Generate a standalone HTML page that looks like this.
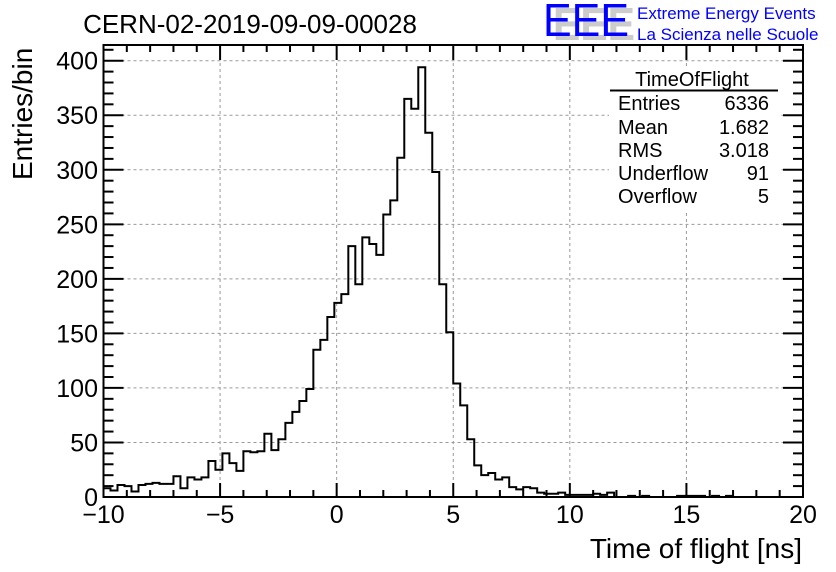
<!DOCTYPE html>
<html><head><meta charset="utf-8"><style>
html,body{margin:0;padding:0;background:#fff;}
svg{display:block;font-family:"Liberation Sans",sans-serif;}
</style></head><body>
<svg id="chart" width="836" height="572" xmlns="http://www.w3.org/2000/svg">
<rect x="0" y="0" width="836" height="572" fill="#fff"/>
<g id="grid"></g>
<g id="hist"></g>
<g id="stats">
<rect x="609" y="66" width="170" height="144" fill="#fff"/>
<text x="692" y="86" font-size="20" text-anchor="middle">TimeOfFlight</text>
<line x1="610" y1="90.5" x2="778" y2="90.5" stroke="#000" stroke-width="2"/>
<text x="618" y="110" font-size="20">Entries</text><text x="769" y="110" font-size="20" text-anchor="end">6336</text>
<text x="618" y="134" font-size="20">Mean</text><text x="769" y="134" font-size="20" text-anchor="end">1.682</text>
<text x="618" y="157" font-size="20">RMS</text><text x="769" y="157" font-size="20" text-anchor="end">3.018</text>
<text x="618" y="180" font-size="20">Underflow</text><text x="769" y="180" font-size="20" text-anchor="end">91</text>
<text x="618" y="203" font-size="20">Overflow</text><text x="769" y="203" font-size="20" text-anchor="end">5</text>
</g>
<g id="axes"></g>
<text x="250" y="33" font-size="26" text-anchor="middle">CERN-02-2019-09-09-00028</text>
<g>
<text x="553" y="40" font-size="46" fill="#ccc" font-weight="bold" textLength="82" lengthAdjust="spacingAndGlyphs">EEE</text>
<text x="543" y="36" font-size="46" fill="#0000ff" textLength="86" lengthAdjust="spacingAndGlyphs">EEE</text>
<text x="637" y="19" font-size="17" fill="#0000ff">Extreme Energy Events</text>
<text x="637" y="40" font-size="17" fill="#0000ff">La Scienza nelle Scuole</text>
</g>
<text x="802" y="558" font-size="28" text-anchor="end">Time of flight [ns]</text>
<text transform="translate(32,180) rotate(-90)" font-size="28" text-anchor="start">Entries/bin</text>
</svg>
<script>
const binValues = [8,6,11,10,5,11,12,13,12,12,19,8,18,16,18,33,25,40,31,24,42,41,42,58,43,53,68,78,88,99,
135,144,165,178,186,230,195,238,232,222,259,272,311,365,356,394,334,298,195,151,
104,84,53,29,20,22,16,18,9,7,9,8,4,3,3,4,2,2,2,2,3,2,4,0,0,1,0,1,0,0,
0,0,1,1,1,1,0,1,0,1,0,0,0,0,0,0,0,0,0,0];
const xTickLabels = ["−10","−5","0","5","10","15","20"];
const xTickValues = [-10,-5,0,5,10,15,20];
const yTickValues = [0,50,100,150,200,250,300,350,400];

const NS="http://www.w3.org/2000/svg";
const L=103.5,R=803,T=45,B=497;
const xMin=-10,xMax=20,yMax=400,yTop=60.7;
const X=v=>L+(v-xMin)/(xMax-xMin)*(R-L);
const Y=v=>B-v/yMax*(B-yTop);
function mk(tag,attrs,parent){const e=document.createElementNS(NS,tag);for(const k in attrs)e.setAttribute(k,attrs[k]);parent.appendChild(e);return e;}
const grid=document.getElementById('grid'),axes=document.getElementById('axes'),hist=document.getElementById('hist');
xTickValues.slice(1,-1).forEach(v=>{const l=mk('line',{x1:X(v),x2:X(v),y1:T,y2:B,stroke:'#999','stroke-dasharray':'3,3','stroke-width':1},grid);

});
yTickValues.slice(1).forEach(v=>{const l=mk('line',{x1:L,x2:R,y1:Y(v),y2:Y(v),stroke:'#999','stroke-dasharray':'3,3','stroke-width':1},grid);

});
const w=(xMax-xMin)/binValues.length;
let d='M'+X(xMin)+','+Y(0);
binValues.forEach((v,i)=>{d+=' L'+X(xMin+i*w)+','+Y(v)+' L'+X(xMin+(i+1)*w)+','+Y(v);});
d+=' L'+X(xMax)+','+Y(0);
const p=mk('path',{d:d,fill:'none',stroke:'#000','stroke-width':2},hist);


const fr=mk('rect',{x:L,y:T,width:R-L,height:B-T,fill:'none',stroke:'#000','stroke-width':2},axes);


for(let v=xMin;v<=xMax;v++){const maj=v%5===0;
mk('line',{x1:X(v),x2:X(v),y1:B,y2:B-(maj?14:7),stroke:'#000','stroke-width':2},axes);
mk('line',{x1:X(v),x2:X(v),y1:T,y2:T+(maj?15:7),stroke:'#000','stroke-width':2},axes);}
xTickValues.forEach((v,i)=>{const t=mk('text',{x:X(v),y:523,'font-size':25,'text-anchor':'middle'},axes);t.textContent=xTickLabels[i];

});
for(let v=0;v<=410;v+=10){const maj=v%50===0;
mk('line',{x1:L,x2:L+(maj?20:10),y1:Y(v),y2:Y(v),stroke:'#000','stroke-width':2},axes);
mk('line',{x1:R,x2:R-(maj?20:10),y1:Y(v),y2:Y(v),stroke:'#000','stroke-width':2},axes);}
yTickValues.forEach(v=>{const t=mk('text',{x:98,y:Y(v)+9,'font-size':25,'text-anchor':'end'},axes);t.textContent=String(v);

});
</script>
</body></html>
